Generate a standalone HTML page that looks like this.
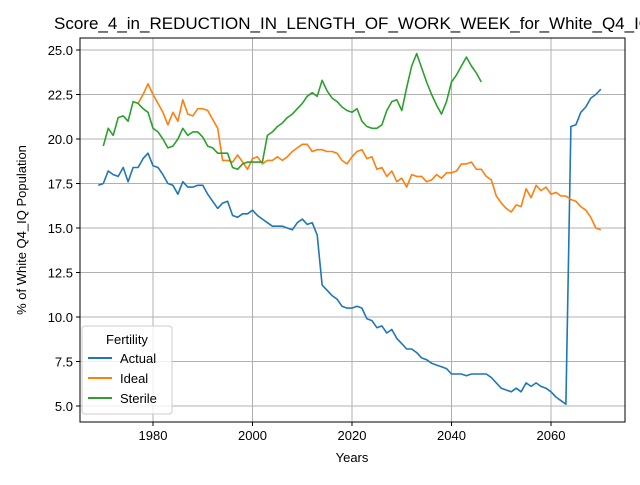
<!DOCTYPE html>
<html><head><meta charset="utf-8"><style>
body{margin:0;background:#fff;overflow:hidden;width:640px;height:480px}
svg{font-family:"Liberation Sans","DejaVu Sans",sans-serif}
</style></head><body>
<svg id="c" width="640" height="480" viewBox="0 0 640 480">
<rect width="640" height="480" fill="#fff"/>
<g id="grid"></g>
<g id="lines"></g>
<rect x="80" y="38" width="545" height="384" fill="none" stroke="#000" stroke-width="1"/>
<g id="ticks"></g>
<text x="54" y="29" font-size="17">Score_4_in_REDUCTION_IN_LENGTH_OF_WORK_WEEK_for_White_Q4_IQ</text>
<text x="352" y="462" font-size="13" text-anchor="middle">Years</text>
<text transform="translate(26,230) rotate(-90)" font-size="13" text-anchor="middle">% of White Q4_IQ Population</text>
<g>
<rect x="82" y="326" width="90" height="88" rx="3" fill="#fff" fill-opacity="0.8" stroke="#ccc"/>
<text x="127" y="344" font-size="13" text-anchor="middle">Fertility</text>
<line x1="88" y1="358" x2="112" y2="358" stroke="#1f77b4" stroke-width="2"/>
<text x="120" y="363" font-size="13">Actual</text>
<line x1="88" y1="378" x2="112" y2="378" stroke="#ff7f0e" stroke-width="2"/>
<text x="120" y="383" font-size="13">Ideal</text>
<line x1="88" y1="398" x2="112" y2="398" stroke="#2ca02c" stroke-width="2"/>
<text x="120" y="403" font-size="13">Sterile</text>
</g>
</svg>
<script>
const actualStart = 1969;
const actualValues = [17.4,17.5,18.2,18.0,17.9,18.4,17.6,18.4,18.4,18.9,19.2,18.5,18.4,18.0,17.5,17.4,16.9,17.6,17.3,17.3,17.4,17.4,16.9,16.5,16.1,16.4,16.5,15.7,15.6,15.8,15.8,16.0,15.7,15.5,15.3,15.1,15.1,15.1,15.0,14.9,15.3,15.5,15.2,15.3,14.6,11.8,11.5,11.2,11.0,10.6,10.5,10.5,10.6,10.5,9.9,9.8,9.4,9.5,9.1,9.3,8.8,8.5,8.2,8.2,8.0,7.7,7.6,7.4,7.3,7.2,7.1,6.8,6.8,6.8,6.7,6.8,6.8,6.8,6.8,6.6,6.3,6.0,5.9,5.8,6.0,5.8,6.3,6.1,6.3,6.1,6.0,5.8,5.5,5.3,5.1,20.7,20.8,21.5,21.8,22.3,22.5,22.8];
const idealStart = 1977;
const idealValues = [22.0,22.5,23.1,22.5,22.0,21.5,20.8,21.5,21.0,22.2,21.4,21.3,21.7,21.7,21.6,21.1,20.6,18.8,18.8,18.7,19.1,18.7,18.3,18.9,19.0,18.6,18.8,18.8,19.0,18.8,19.0,19.3,19.5,19.7,19.7,19.3,19.4,19.4,19.3,19.3,19.2,18.8,18.6,19.0,19.3,19.4,18.9,19.0,18.3,18.4,17.9,18.2,17.6,17.8,17.3,18.0,17.9,17.9,17.6,17.7,18.0,17.8,18.1,18.1,18.2,18.6,18.6,18.7,18.3,18.3,17.9,17.7,16.8,16.4,16.1,15.9,16.3,16.2,17.2,16.7,17.4,17.1,17.3,16.9,17.0,16.8,16.8,16.6,16.5,16.2,16.0,15.6,15.0,14.9];
const sterileStart = 1970;
const sterileValues = [19.6,20.6,20.2,21.2,21.3,21.0,22.1,22.0,21.7,21.5,20.6,20.4,20.0,19.5,19.6,20.0,20.6,20.2,20.4,20.4,20.1,19.6,19.5,19.2,19.2,19.2,18.4,18.3,18.6,18.7,18.7,18.7,18.7,20.2,20.4,20.7,20.9,21.2,21.4,21.7,22.0,22.4,22.6,22.4,23.3,22.7,22.3,22.1,21.8,21.6,21.5,21.7,21.0,20.7,20.6,20.6,20.8,21.6,22.1,22.2,21.6,22.9,24.1,24.8,24.0,23.2,22.5,21.9,21.4,22.1,23.2,23.6,24.1,24.6,24.1,23.7,23.2];
const xTicks = [1980,2000,2020,2040,2060];
const yTicks = [5.0,7.5,10.0,12.5,15.0,17.5,20.0,22.5,25.0];

const X = yr => 153 + (yr - 1980) * 4.975;
const Y = v => 50 + (25 - v) * 17.8;
const NS = 'http://www.w3.org/2000/svg';
const grid = document.getElementById('grid'), ticks = document.getElementById('ticks'), lines = document.getElementById('lines');
function mk(tag, attrs, parent){const e=document.createElementNS(NS,tag);for(const k in attrs)e.setAttribute(k,attrs[k]);parent.appendChild(e);return e;}
xTicks.forEach(t=>{
  const x=X(t);
  const g=mk('line',{x1:x,y1:38,x2:x,y2:422,stroke:'#b0b0b0','stroke-width':1},grid);
  
  
  mk('line',{x1:x,y1:422,x2:x,y2:426,stroke:'#000'},ticks);
  const tx=mk('text',{x:x,y:440,'font-size':13,'text-anchor':'middle'},ticks);
  tx.textContent=t;
  
  
});
yTicks.forEach(t=>{
  const y=Y(t);
  const g=mk('line',{x1:80,y1:y,x2:625,y2:y,stroke:'#b0b0b0','stroke-width':1},grid);
  
  
  mk('line',{x1:76,y1:y,x2:80,y2:y,stroke:'#000'},ticks);
  const tx=mk('text',{x:73,y:y+5,'font-size':13,'text-anchor':'end'},ticks);
  tx.textContent=t.toFixed(1);
  
  
});
function series(start, vals, color, name){
  const pts=vals.map((v,i)=>X(start+i).toFixed(1)+','+Y(v).toFixed(1)).join(' ');
  const p=mk('polyline',{points:pts,fill:'none',stroke:color,'stroke-width':1.6,'stroke-linejoin':'round'},lines);
  
  
}
series(actualStart, actualValues, '#1f77b4', 'actual-line');
series(idealStart, idealValues, '#ff7f0e', 'ideal-line');
series(sterileStart, sterileValues, '#2ca02c', 'sterile-line');
</script>
</body></html>
